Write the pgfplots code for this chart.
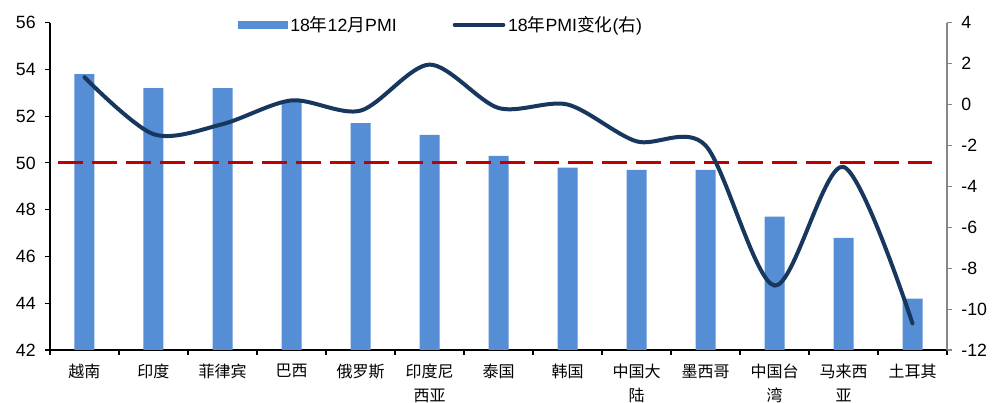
\documentclass[border=0pt]{standalone}
\usepackage{fontspec}
\setmainfont{Liberation Sans}
\newfontfamily\cjk{Noto Sans CJK SC}
\usepackage{pgfplots}
\usepackage{pgfplotstable}
\pgfplotsset{compat=1.18}

\definecolor{barblue}{RGB}{85,142,213}
\definecolor{navyline}{RGB}{23,55,94}
\definecolor{refred}{RGB}{192,0,0}
\definecolor{axisgray}{RGB}{134,134,134}

% x: category index, pmi: Dec 2018 PMI, chg: change of PMI over 2018 (right axis)
\pgfplotstableread{
x pmi chg
0 53.8 1.33
1 53.2 -1.45
2 53.2 -0.96
3 52.6 0.2
4 51.7 -0.3
5 51.2 1.95
6 50.3 -0.17
7 49.8 0.0
8 49.7 -1.8
9 49.7 -2.0
10 47.7 -8.85
11 46.8 -3.05
12 44.2 -10.7
}\pmidata

\newcommand{\numfont}{\fontsize{13.3}{16}\selectfont}

\begin{document}
\begin{tikzpicture}
\begin{axis}[
  name=ax,
  scale only axis,
  width=672.75pt, height=245.5pt,
  xmin=-0.5, xmax=12.5,
  ymin=42, ymax=56,
  ytick={42,44,...,56},
  axis x line*=bottom,
  axis y line*=left,
  axis line style={black, line width=0.8pt},
  tick align=outside,
  major tick length=3.75pt,
  minor tick length=3.75pt,
  xtick={0,...,12},
  minor xtick={-0.5,0.5,...,12.5},
  major x tick style={draw=none},
  minor x tick style={black, line width=0.8pt},
  ytick style={black, line width=0.8pt},
  xticklabels={越南,印度,菲律宾,巴西,俄罗斯,{印度尼\\西亚},泰国,韩国,{中国大\\陆},墨西哥,{中国台\\湾},{马来西\\亚},土耳其},
  xticklabel style={font=\cjk\fontsize{12}{18}\selectfont, align=center, yshift=-3.5pt},
  yticklabel style={font=\numfont, xshift=-3.5pt},
  /pgf/number format/assume math mode=true,
  legend style={
    at={(rel axis cs:0.2096,0.993)}, anchor=west,
    draw=none, fill=none,
    font=\numfont,
    inner sep=0pt,
    legend cell align=left,
    /tikz/every even column/.append style={column sep=40pt},
  },
  legend columns=2,
]
\addplot[ybar, bar width=15pt, fill=barblue, draw=none,
  legend image code/.code={\fill[barblue] (0pt,-3pt) rectangle (37pt,3pt);}]
  table[x=x, y=pmi] {\pmidata};
\addlegendentry{18{\cjk 年}12{\cjk 月}PMI}
\addlegendimage{navyline, line width=3pt, line cap=round,
  legend image code/.code={\draw[navyline, line width=3pt, line cap=round] (1.5pt,0pt) -- (38pt,0pt);}}
\addlegendentry{18{\cjk 年}PMI{\cjk 变化}({\cjk 右})}
% the 50 boom/bust threshold
\addplot[refred, line width=2.25pt, dash pattern=on 18.75pt off 6.75pt, forget plot]
  coordinates {(-0.384,50) (12.28,50)};
\end{axis}

\begin{axis}[
  scale only axis,
  width=672.75pt, height=245.5pt,
  xmin=-0.5, xmax=12.5,
  ymin=-12, ymax=4,
  ytick={-12,-10,...,4},
  axis x line=none,
  axis y line*=right,
  axis line style={axisgray, line width=0.8pt},
  tick align=outside,
  major tick length=3.75pt,
  ytick style={axisgray, line width=0.8pt},
  yticklabel style={font=\numfont, xshift=3.5pt},
  /pgf/number format/assume math mode=true,
]
\addplot[navyline, line width=3pt, line cap=round, smooth, tension=0.5]
  table[x=x, y=chg] {\pmidata};
\end{axis}

\pgfresetboundingbox
\path[use as bounding box] ([xshift=-37.5pt,yshift=-39.75pt]ax.south west) rectangle ([xshift=42pt,yshift=17pt]ax.north east);
\end{tikzpicture}
\end{document}
